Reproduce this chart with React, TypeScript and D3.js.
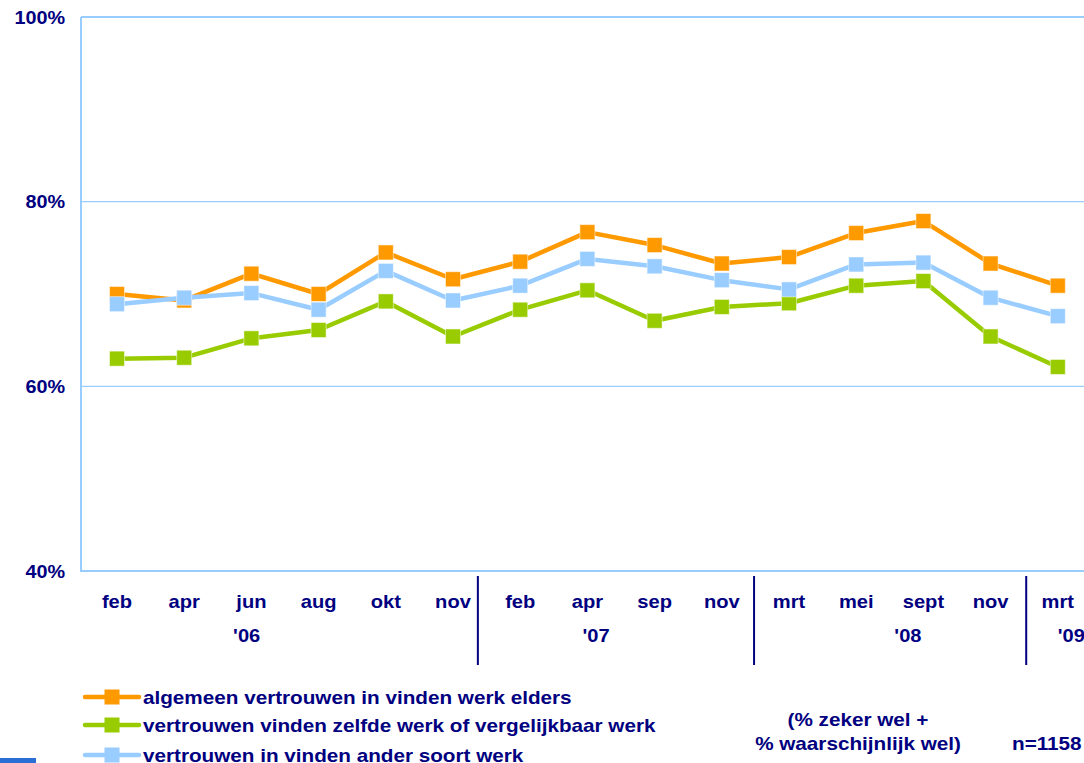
import React from "react";
import * as d3 from "d3";

const months = ["feb", "apr", "jun", "aug", "okt", "nov", "feb", "apr", "sep", "nov", "mrt", "mei", "sept", "nov", "mrt"];
const algemeen = [70.0, 69.3, 72.2, 70.0, 74.5, 71.6, 73.5, 76.7, 75.3, 73.3, 74.0, 76.6, 77.9, 73.3, 70.9];
const zelfde = [63.0, 63.1, 65.2, 66.1, 69.2, 65.4, 68.3, 70.4, 67.1, 68.6, 69.0, 70.9, 71.4, 65.4, 62.1];
const ander = [68.9, 69.6, 70.1, 68.3, 72.5, 69.3, 70.9, 73.8, 73.0, 71.5, 70.5, 73.2, 73.4, 69.6, 67.6];
const yTicks = [40, 60, 80, 100];
const years = ["'06", "'07", "'08", "'09"];
const yearPos = [1.93, 7.13, 11.77, 14.2];
const dividerPos = [5.37, 9.48, 13.53];

const seriesNames = [
  "algemeen vertrouwen in vinden werk elders",
  "vertrouwen vinden zelfde werk of vergelijkbaar werk",
  "vertrouwen in vinden ander soort werk",
];
const seriesData = [algemeen, zelfde, ander];
const colors = ["#ff9900", "#99cc00", "#99ccff"];

const W = 1084;
const H = 763;
const plotLeft = 81;
const plotTop = 17;
const plotBottom = 571;
const navy = "#000080";
const axisBlue = "#99ccff";
const font = "'Liberation Sans', Arial, sans-serif";

export default function App() {
  const x = d3.scaleLinear().domain([0, 14]).range([117, 1057.8]);
  const y = d3.scaleLinear().domain([40, 100]).range([plotBottom, plotTop]);
  const line = d3
    .line<number>()
    .x((_, i) => x(i))
    .y((v) => y(v));
  const ms = 15;
  const sx = 1.15;
  const legendY = [697, 725, 755];

  return (
    <svg
      width={W}
      height={H}
      style={{ position: "absolute", left: 0, top: 0, background: "#fff" }}
      fontFamily={font}
      fontWeight="bold"
    >
      <rect x={0} y={0} width={W} height={H} fill="#fff" />
      {/* gridlines */}
      {yTicks.slice(1).map((t) => (
        <line
          key={t}
          x1={plotLeft}
          x2={W + 10}
          y1={y(t)}
          y2={y(t)}
          stroke={axisBlue}
          strokeWidth={t === 100 ? 2 : 1.2}
        />
      ))}
      {/* axes */}
      <line x1={plotLeft} x2={plotLeft} y1={plotTop} y2={plotBottom + 1} stroke={axisBlue} strokeWidth={2} />
      <line x1={plotLeft} x2={W + 10} y1={plotBottom} y2={plotBottom} stroke={axisBlue} strokeWidth={2} />
      {/* y labels */}
      {yTicks.map((t) => (
        <text
          key={t}
          transform={`translate(65,${y(t) + 6.5}) scale(1.1,1)`}
          textAnchor="end"
          fontSize={18}
          fill={navy}
        >
          {t}%
        </text>
      ))}
      {/* x labels */}
      {months.map((m, i) => (
        <text
          key={i}
          transform={`translate(${x(i)},608) scale(${sx},1)`}
          textAnchor="middle"
          fontSize={17.5}
          fill={navy}
        >
          {m}
        </text>
      ))}
      {years.map((yr, i) => (
        <text
          key={yr}
          transform={`translate(${x(yearPos[i])},642) scale(${sx},1)`}
          textAnchor="middle"
          fontSize={17.5}
          fill={navy}
        >
          {yr}
        </text>
      ))}
      {dividerPos.map((p) => (
        <line key={p} x1={x(p)} x2={x(p)} y1={576} y2={665} stroke={navy} strokeWidth={2} />
      ))}
      {/* series */}
      {seriesData.map((data, si) => (
        <g key={si}>
          <path d={line(data) || ""} fill="none" stroke={colors[si]} strokeWidth={4.5} strokeLinejoin="round" />
          {data.map((v, i) => (
            <rect
              key={i}
              x={x(i) - ms / 2}
              y={y(v) - ms / 2}
              width={ms}
              height={ms}
              fill={colors[si]}
              stroke="#ffffff"
              strokeOpacity={0.5}
              strokeWidth={1}
            />
          ))}
        </g>
      ))}
      {/* legend */}
      {seriesNames.map((name, i) => (
        <g key={name}>
          <line x1={85} x2={139} y1={legendY[i]} y2={legendY[i]} stroke={colors[i]} strokeWidth={4.5} strokeLinecap="round" />
          <rect x={112 - ms / 2} y={legendY[i] - ms / 2} width={ms} height={ms} fill={colors[i]} />
          <text transform={`translate(143,${legendY[i] + 6.5}) scale(${sx},1)`} fontSize={18} fill={navy}>
            {name}
          </text>
        </g>
      ))}
      <text transform={`translate(858,726) scale(${sx},1)`} textAnchor="middle" fontSize={18} fill={navy}>
        (% zeker wel +
      </text>
      <text transform={`translate(858,750) scale(${sx},1)`} textAnchor="middle" fontSize={18} fill={navy}>
        % waarschijnlijk wel)
      </text>
      <text transform={`translate(1012,750) scale(${sx},1)`} fontSize={18} fill={navy}>
        n=1158
      </text>
      <rect x={0} y={758} width={36} height={5} fill="#2a6fd6" />
    </svg>
  );
}
